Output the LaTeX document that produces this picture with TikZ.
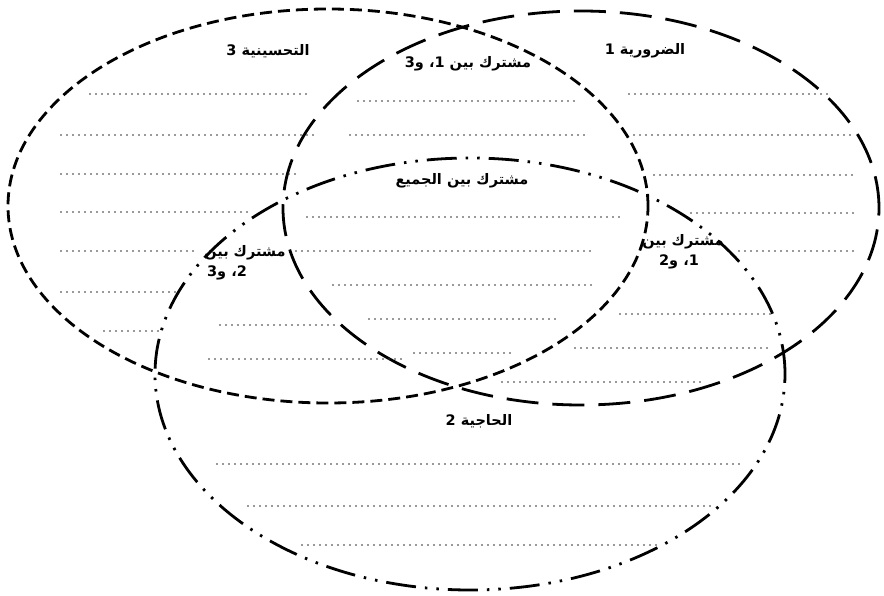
\documentclass[tikz,border=0pt]{standalone}
\usepackage{fontspec}
\usetikzlibrary{positioning}
\newfontfamily\arabicfont[Script=Arabic]{DejaVu Sans}
\TeXXeTstate=1
\definecolor{setline}{HTML}{000000}
\definecolor{answerdots}{HTML}{333333}

\begin{document}
\begin{tikzpicture}[
    x=1pt, y=1pt,
    node distance=3pt,
    setborder/.style={
        line width=2.8pt,
        setline
    },
    shortdashes/.style={
        setborder,
        dash pattern=on 12pt off 6pt
    },
    longdashes/.style={
        setborder,
        dash pattern=on 32pt off 14pt
    },
    dashdotdot/.style={
        setborder,
        dash pattern=on 30pt off 9pt on 2.5pt off 9pt on 2.5pt off 9pt
    },
    answerline/.style={
        answerdots,
        line width=1.6pt,
        line cap=round,
        dash pattern=on 0pt off 6pt
    },
    setlabel/.style={
        font=\arabicfont\bfseries\fontsize{14.5}{16}\selectfont,
        inner sep=1pt
    }
]
    \useasboundingbox (0,0) rectangle (884,-596);

    % the three sets
    \draw[shortdashes] (328,-206) ellipse [x radius=320pt, y radius=197pt];
    \draw[longdashes] (581,-208) ellipse [x radius=298pt, y radius=197pt];
    \draw[dashdotdot] (470,-374) ellipse [x radius=315pt, y radius=216pt];

    % dotted writing lines
    \foreach \xa/\xb/\yy in {
        90/310/94, 61/313/135, 61/299/174, 61/248/212, 61/197/251, 61/178/292, 104/158/331,
        358/578/101, 350/586/135, 307/620/217, 296/592/251, 333/595/285, 369/558/319, 414/513/353,
        629/829/94, 634/854/135, 654/854/175, 691/854/213, 739/854/251,
        620/770/314, 575/770/348, 502/702/382,
        220/335/325, 209/403/359,
        217/744/464, 248/710/506, 302/660/545}
        \draw[answerline] (\xa,-\yy) -- (\xb,-\yy);

    % labels
    \node[setlabel] (label3) at (268,-51) {\beginR التحسينية 3\endR};
    \node[setlabel] (label1) at (645,-51) {\beginR الضرورية 1\endR};
    \node[setlabel] (label2) at (479,-421) {\beginR الحاجية 2\endR};
    \node[setlabel] (shared13) at (468,-64) {\beginR مشترك بين 1، و3\endR};
    \node[setlabel] (sharedall) at (462,-181) {\beginR مشترك بين الجميع\endR};

    \node[setlabel] (shared23top) at (245,-253) {\beginR مشترك بين\endR};
    \node[setlabel, below=of shared23top, xshift=-18pt] (shared23bottom) {\beginR 2، و3\endR};

    \node[setlabel] (shared12top) at (683,-242) {\beginR مشترك بين\endR};
    \node[setlabel, below=of shared12top, xshift=-4pt] (shared12bottom) {\beginR 1، و2\endR};
\end{tikzpicture}
\end{document}
